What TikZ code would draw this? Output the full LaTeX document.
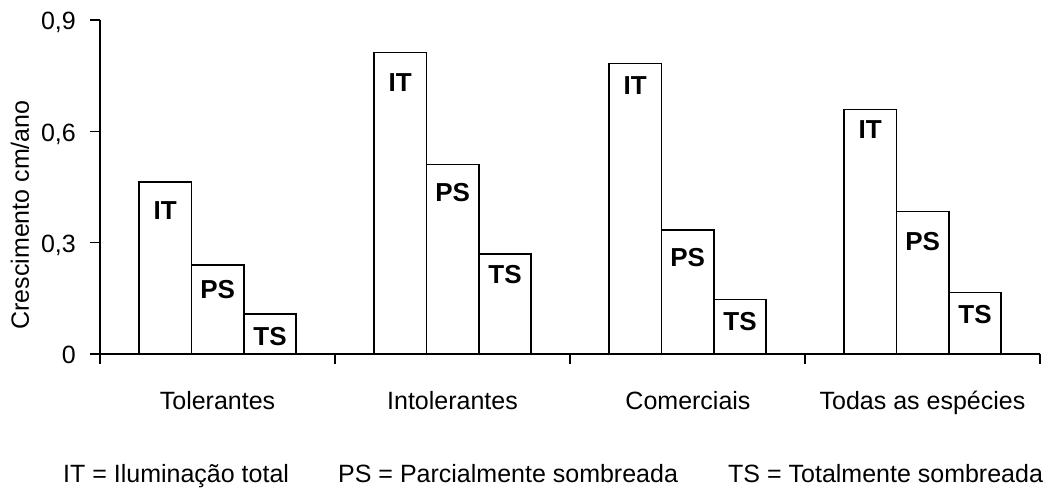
\documentclass[tikz,border=0pt]{standalone}
\usepackage{fontspec}
\setmainfont{Liberation Sans}
\begin{document}
\begin{tikzpicture}[x=1pt,y=-1pt,
  axisline/.style={line width=1.5pt, black},
  bar/.style={draw=black, line width=1.5pt, fill=white},
  barlabel/.style={font=\fontsize{26}{30}\selectfont\bfseries, inner sep=0pt},
  ticklabel/.style={font=\fontsize{25}{30}\selectfont, inner sep=0pt, anchor=base east},
  catlabel/.style={font=\fontsize{25}{30}\selectfont, inner sep=0pt, anchor=base},
  legendtext/.style={font=\fontsize{25}{30}\selectfont, inner sep=0pt, anchor=base west}]
\useasboundingbox (0,0) rectangle (1054,488);
% bars: group, bar index, top y, label y, label text
\foreach \g/\b/\t/\ly/\lab in {
  0/0/182/211/IT, 0/1/265/290/PS, 0/2/314/337/TS,
  1/0/52.7/83/IT, 1/1/164.3/193/PS, 1/2/254/275/TS,
  2/0/63.3/86/IT, 2/1/230/258/PS, 2/2/299.3/322/TS,
  3/0/109.3/130/IT, 3/1/211.7/242/PS, 3/2/292.3/315/TS}{
  \pgfmathsetmacro{\xa}{100+235*\g+39+52.4*\b}
  \pgfmathsetmacro{\xb}{\xa+52.4}
  \pgfmathsetmacro{\xc}{\xa+26.2}
  \draw[bar] (\xa,354) rectangle (\xb,\t);
  \node[barlabel] (bl-\g-\b) at (\xc,\ly) {\lab};
}
% axes
\draw[axisline] (100,20) -- (100,354) -- (1040,354);
\foreach \yy in {20,131.3,242.7,354}{
  \draw[axisline] (90,\yy) -- (100,\yy);
}
\foreach \xx in {100,335,570,805,1040}{
  \draw[axisline] (\xx,354) -- (\xx,364);
}
% tick labels
\node[ticklabel] (t9) at (76,29.5) {0,9};
\node[ticklabel] (t6) at (76,141) {0,6};
\node[ticklabel] (t3) at (76,252) {0,3};
\node[ticklabel] (t0) at (76,363.5) {0};
% axis title
\node[rotate=90, font=\fontsize{25}{30}\selectfont, inner sep=0pt] (ytitle) at (20,215) {Crescimento cm/ano};
% categories
\node[catlabel] (c1) at (217.5,409) {Tolerantes};
\node[catlabel] (c2) at (452.5,409) {Intolerantes};
\node[catlabel] (c3) at (688,409) {Comerciais};
\node[catlabel] (c4) at (922.5,409) {Todas as espécies};
% legend
\node[legendtext] (l1) at (63,482) {IT = Iluminação total};
\node[legendtext] (l2) at (338,482) {PS = Parcialmente sombreada};
\node[legendtext] (l3) at (728,482) {TS = Totalmente sombreada};
\end{tikzpicture}
\end{document}
